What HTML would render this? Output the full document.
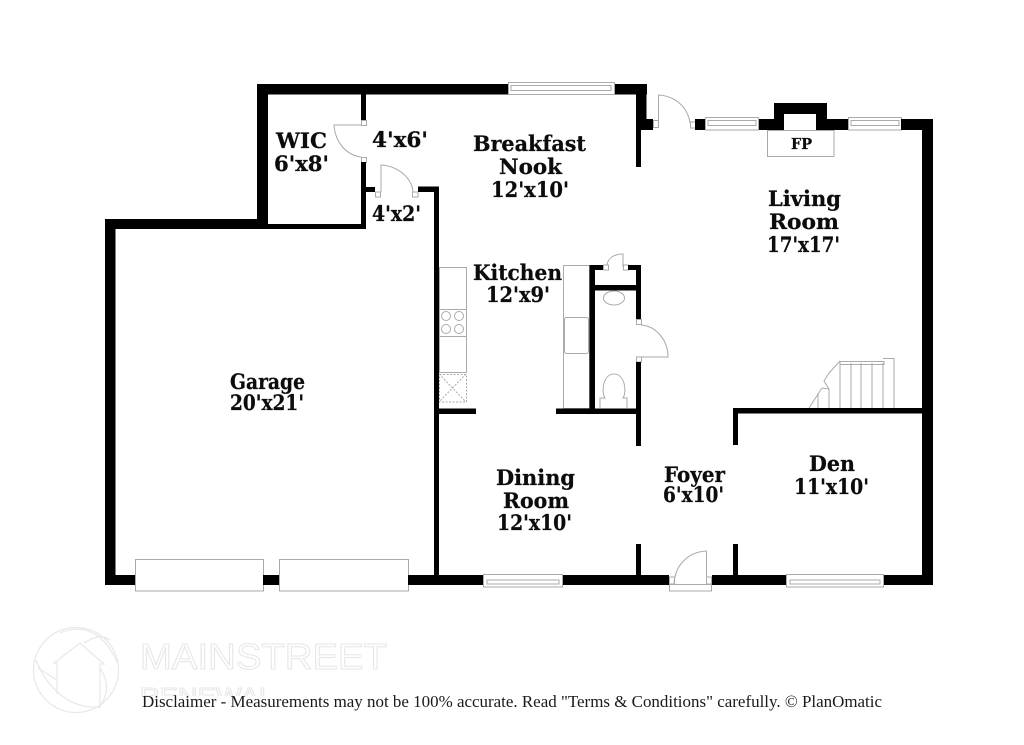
<!DOCTYPE html>
<html><head><meta charset="utf-8"><style>
html,body{margin:0;padding:0;background:#fff}
svg{display:block}
.t{font-family:"DejaVu Serif","Liberation Serif",serif;font-weight:bold;font-size:21.5px;fill:#0c0c0c;stroke:#0c0c0c;stroke-width:.25}
.f{font-size:15px}
.d{font-family:"Liberation Serif",serif;font-size:16.5px;fill:#1a1a1a}
.g{fill:none;stroke:#aaa;stroke-width:1}
.w{font-family:"Liberation Sans",sans-serif;fill:#fff;stroke:#e6e6e6;stroke-width:1}
</style></head><body>
<svg width="1024" height="745" viewBox="0 0 1024 745" xmlns="http://www.w3.org/2000/svg">
<rect width="1024" height="745" fill="#fff"/>
<g fill="none" stroke="#e8e8e8" stroke-width="1.2">
<circle cx="76" cy="670" r="42.5"/>
<path d="M57 694V663H54L80 643 104 664H100V708"/>
<path d="M36 660C50 695 75 708 97 707M60 633C85 622 105 635 117 662M84 643C95 636 103 635 110 640M57 680L38 668M100 668C108 680 110 695 98 708"/>
</g>
<text class="w" x="140" y="669" font-size="36" textLength="247" lengthAdjust="spacingAndGlyphs">MAINSTREET</text>
<text class="w" x="140" y="704" font-size="23" textLength="134" lengthAdjust="spacingAndGlyphs">RENEWAL</text>
<rect x="140" y="696" width="150" height="16" fill="#fff"/>
<g class="g">
<rect x="439.500" y="267.500" width="27" height="105"/>
<path d="M439 309.500H466M439 336.500H466"/>
<circle cx="446" cy="316" r="4.500"/><circle cx="459" cy="316" r="4.500"/><circle cx="446" cy="329" r="4.500"/><circle cx="459" cy="329" r="4.500"/>
<rect x="439.500" y="374.500" width="27" height="27.500" stroke-dasharray="2 1.500"/>
<path d="M439 374L466 402M466 374L439 402" stroke-dasharray="2 1.500"/>
<rect x="563.500" y="265.500" width="26" height="143"/>
<rect x="564.500" y="317.500" width="24" height="36" rx="2"/>
<ellipse cx="614" cy="298" rx="10.500" ry="7"/>
<path d="M600 408V398H605C601 392 603 374 614 374C625 374 627 392 623 398H627V408"/>
<rect x="767.500" y="130.500" width="66.500" height="26"/>
<path d="M809 408L822 388 829 389 824 381 829 373 840 361M818 408V393M829 408V389M840 408V361M851 408V363M861 408V363M872 408V363M883 408V363M840 361.500H884V364.500H840M883 358.500H894V408"/>
<path d="M361 125H334C335 142 346 155 361 157"/>
<path d="M381 192V165C398 166 412 178 413 192"/>
<path d="M658.500 126V95C676 96 688 108 690 123"/>
<path d="M641 325C656 326 668 340 668 357H641"/>
<path d="M623 267V254C614 254 608 258 607 265"/>
<path d="M706.500 584V551C688 552 675 565 674 584"/>
<rect x="669.500" y="584.500" width="42" height="6.500"/>
<rect x="361.500" y="120.500" width="5" height="5"/><rect x="361.500" y="157.500" width="5" height="5"/>
<rect x="375.500" y="192" width="5" height="5"/><rect x="412.500" y="192" width="5.500" height="5"/>
<rect x="653.500" y="120.500" width="5" height="7"/><rect x="690.500" y="122" width="5" height="6"/>
<rect x="603.500" y="265" width="5" height="5"/><rect x="623.500" y="265" width="5" height="5"/>
<rect x="636.500" y="319.500" width="5" height="5"/><rect x="636.500" y="357" width="5" height="5"/>
<rect x="669.500" y="577" width="5" height="7"/><rect x="706.500" y="577" width="5" height="7"/>
<rect x="135.500" y="559.500" width="128" height="31.500"/>
<rect x="279.500" y="559.500" width="129" height="31.500"/>
<rect x="508.500" y="82.500" width="106" height="12"/><rect x="511" y="85.500" width="100" height="5"/>
<rect x="705.500" y="117.500" width="53" height="12.500"/><rect x="708" y="120.500" width="48" height="5"/>
<rect x="848.500" y="117.500" width="53" height="12.500"/><rect x="851" y="120.500" width="48" height="5"/>
<rect x="483.500" y="574.500" width="79" height="12.500"/><rect x="487" y="580" width="72" height="4"/>
<rect x="786.500" y="574.500" width="97" height="12.500"/><rect x="790" y="580" width="90" height="4"/>
</g>
<g fill="#000">
<rect x="257" y="84" width="251" height="10.500"/>
<rect x="615" y="84" width="32" height="10.500"/>
<rect x="257" y="84" width="11" height="145"/>
<rect x="105" y="219" width="163" height="10"/>
<rect x="257" y="224" width="109" height="5"/>
<rect x="361" y="94" width="5" height="26"/>
<rect x="361" y="162" width="5" height="67"/>
<rect x="361" y="187" width="14" height="5"/>
<rect x="418" y="186.500" width="21" height="5.500"/>
<rect x="434" y="186.500" width="5" height="398"/>
<rect x="636" y="84" width="10.500" height="46"/>
<rect x="636" y="119" width="17" height="11"/>
<rect x="636" y="125" width="5" height="42"/>
<rect x="695" y="119" width="10" height="11"/>
<rect x="759" y="119" width="25" height="11"/>
<rect x="774" y="103" width="10" height="27"/>
<rect x="774" y="103" width="53" height="11"/>
<rect x="816" y="103" width="11" height="27"/>
<rect x="816" y="119" width="32" height="11"/>
<rect x="901" y="119" width="32" height="11"/>
<rect x="922" y="119" width="11" height="466"/>
<rect x="105" y="219" width="10.500" height="366"/>
<rect x="105" y="575" width="30" height="10"/>
<rect x="263" y="575" width="16" height="10"/>
<rect x="408" y="575" width="75" height="10"/>
<rect x="563" y="575" width="106" height="10"/>
<rect x="712" y="575" width="74" height="10"/>
<rect x="884" y="575" width="49" height="10"/>
<rect x="439" y="408.500" width="37" height="5.500"/>
<rect x="556" y="408.500" width="85" height="5.500"/>
<rect x="589.500" y="265" width="5.500" height="144"/>
<rect x="595" y="285" width="41" height="5.500"/>
<rect x="595" y="265" width="8" height="5"/>
<rect x="628" y="265" width="13" height="5"/>
<rect x="636" y="265" width="5" height="54"/>
<rect x="636" y="362" width="5" height="84"/>
<rect x="636" y="544" width="5" height="32"/>
<rect x="733" y="544" width="5" height="32"/>
<rect x="733" y="408" width="189" height="5.500"/>
<rect x="733" y="408" width="5" height="37"/>
</g>
<text class="t" x="276" y="148" textLength="51" lengthAdjust="spacingAndGlyphs">WIC</text>
<text class="t" x="274" y="171" textLength="55" lengthAdjust="spacingAndGlyphs">6'x8'</text>
<text class="t" x="372" y="147" textLength="56" lengthAdjust="spacingAndGlyphs">4'x6'</text>
<text class="t" x="372" y="221" textLength="49" lengthAdjust="spacingAndGlyphs">4'x2'</text>
<text class="t" x="473" y="151" textLength="113" lengthAdjust="spacingAndGlyphs">Breakfast</text>
<text class="t" x="499" y="174" textLength="63" lengthAdjust="spacingAndGlyphs">Nook</text>
<text class="t" x="491" y="197" textLength="78" lengthAdjust="spacingAndGlyphs">12'x10'</text>
<text class="t" x="473" y="280" textLength="89" lengthAdjust="spacingAndGlyphs">Kitchen</text>
<text class="t" x="486" y="302" textLength="64" lengthAdjust="spacingAndGlyphs">12'x9'</text>
<text class="t" x="768" y="206" textLength="73" lengthAdjust="spacingAndGlyphs">Living</text>
<text class="t" x="769" y="229" textLength="70" lengthAdjust="spacingAndGlyphs">Room</text>
<text class="t" x="767" y="252" textLength="73" lengthAdjust="spacingAndGlyphs">17'x17'</text>
<text class="t" x="230" y="389" textLength="75" lengthAdjust="spacingAndGlyphs">Garage</text>
<text class="t" x="230" y="410" textLength="74" lengthAdjust="spacingAndGlyphs">20'x21'</text>
<text class="t" x="496" y="485" textLength="79" lengthAdjust="spacingAndGlyphs">Dining</text>
<text class="t" x="503" y="508" textLength="66" lengthAdjust="spacingAndGlyphs">Room</text>
<text class="t" x="497" y="530" textLength="75" lengthAdjust="spacingAndGlyphs">12'x10'</text>
<text class="t" x="664" y="482" textLength="61" lengthAdjust="spacingAndGlyphs">Foyer</text>
<text class="t" x="663" y="502" textLength="61" lengthAdjust="spacingAndGlyphs">6'x10'</text>
<text class="t" x="809" y="471" textLength="46" lengthAdjust="spacingAndGlyphs">Den</text>
<text class="t" x="794" y="494" textLength="75" lengthAdjust="spacingAndGlyphs">11'x10'</text>
<text class="t f" x="791" y="149" textLength="21" lengthAdjust="spacingAndGlyphs">FP</text>
<text class="d" x="142" y="707" textLength="740" lengthAdjust="spacingAndGlyphs">Disclaimer - Measurements may not be 100% accurate. Read "Terms &amp; Conditions" carefully. © PlanOmatic</text>
</svg>
</body></html>
